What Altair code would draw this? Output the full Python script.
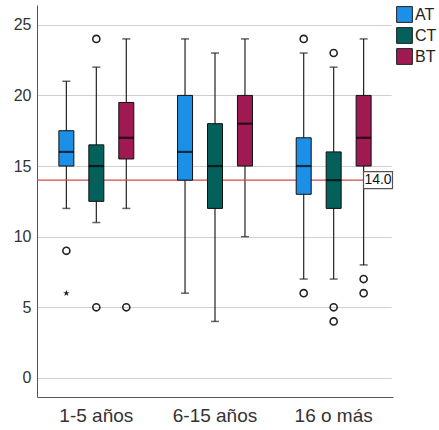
import altair as alt
import pandas as pd

groups = ["1-5 años", "6-15 años", "16 o más"]
series = ["AT", "CT", "BT"]
colors = ["#1C8FE6", "#04605B", "#9E1A50"]

lows = [[12, 11, 12], [6, 4, 10], [7, 7, 8]]
q1s = [[15, 12.5, 15.5], [14, 12, 15], [13, 12, 15]]
meds = [[16, 15, 17], [16, 15, 18], [15, 14, 17]]
q3s = [[17.5, 16.5, 19.5], [20, 18, 20], [17, 16, 20]]
highs = [[21, 22, 24], [24, 23, 24], [23, 22, 24]]

out_group = ["1-5 años", "1-5 años", "1-5 años", "1-5 años", "16 o más", "16 o más", "16 o más", "16 o más", "16 o más", "16 o más", "16 o más"]
out_series = ["AT", "CT", "CT", "BT", "AT", "AT", "CT", "CT", "CT", "BT", "BT"]
out_value = [9, 24, 5, 5, 24, 6, 23, 5, 4, 7, 6]

star_group = ["1-5 años"]
star_series = ["AT"]
star_value = [6]

ref_value = 14
ref_label = "14.0"

rows = []
for gi, g in enumerate(groups):
    for si, s in enumerate(series):
        rows.append(dict(group=g, series=s, low=lows[gi][si], q1=q1s[gi][si],
                         med=meds[gi][si], q3=q3s[gi][si], high=highs[gi][si]))
df = pd.DataFrame(rows)
outs = pd.DataFrame(dict(group=out_group, series=out_series, value=out_value))
stars = pd.DataFrame(dict(group=star_group, series=star_series, value=star_value))

W, H = 356, 392
FONT = "Liberation Sans"

x = alt.X("group:N", sort=groups, title=None,
          scale=alt.Scale(paddingInner=0, paddingOuter=0),
          axis=alt.Axis(labelAngle=0, labelFontSize=19, labelColor="#333333",
                        labelPadding=9, ticks=False, domainColor="#555555",
                        labelFont=FONT, grid=False))
xo = alt.XOffset("series:N", sort=series,
                 scale=alt.Scale(paddingInner=0, paddingOuter=0.48))
yscale = alt.Scale(domain=[-1.35, 26.4], nice=False, zero=False)
yaxis = alt.Axis(values=[0, 5, 10, 15, 20, 25], title=None, labelFontSize=16,
                 labelColor="#333333", ticks=False, labelPadding=6,
                 domainColor="#555555", gridColor="#cfcfcf", grid=True,
                 labelFont=FONT)

base = alt.Chart(df)

# white masks hiding the view border on the right and top edges
edge = pd.DataFrame({"k": [0]})
mask_right = alt.Chart(edge).mark_rule(color="white", strokeWidth=2.5).encode(
    x=alt.value(W), y=alt.value(-2), y2=alt.value(H - 1))
mask_top = alt.Chart(edge).mark_rule(color="white", strokeWidth=2.5).encode(
    x=alt.value(1.5), x2=alt.value(W + 2), y=alt.value(0))

whisk = base.mark_rule(color="#222222", strokeWidth=1.2).encode(
    x=x, xOffset=xo, y=alt.Y("low:Q", scale=yscale, axis=yaxis), y2="high:Q")
caplow = base.mark_tick(color="#222222", size=8, thickness=1.5, orient="horizontal").encode(
    x=x, xOffset=xo, y="low:Q")
caphigh = base.mark_tick(color="#222222", size=8, thickness=1.5, orient="horizontal").encode(
    x=x, xOffset=xo, y="high:Q")

refline = alt.Chart(pd.DataFrame({"v": [ref_value]})).mark_rule(
    color="#D04A4A", strokeWidth=1.2).encode(y="v:Q")

box = base.mark_bar(size=15, stroke="#111111", strokeWidth=1).encode(
    x=x, xOffset=xo, y="q1:Q", y2="q3:Q",
    color=alt.Color("series:N", sort=series,
                    scale=alt.Scale(domain=series, range=colors),
                    legend=alt.Legend(title=None, orient="none", legendX=359, legendY=1,
                                      symbolType="square", symbolSize=250,
                                      symbolStrokeColor="#222222", symbolStrokeWidth=1,
                                      symbolOpacity=1,
                                      labelFontSize=16, labelColor="#222222",
                                      labelFont=FONT, rowPadding=0, labelOffset=2)))
median = base.mark_tick(color="#000000", size=15, thickness=2.2, orient="horizontal").encode(
    x=x, xOffset=xo, y="med:Q")

outpts = alt.Chart(outs).mark_point(shape="circle", size=50, filled=False,
                                    color="#222222", strokeWidth=1.6, opacity=1).encode(
    x=x, xOffset=xo, y="value:Q")

star_path = "M0,-1 L0.24,-0.31 L0.95,-0.31 L0.38,0.12 L0.59,0.81 L0,0.4 L-0.59,0.81 L-0.38,0.12 L-0.95,-0.31 L-0.24,-0.31 Z"
starpts = alt.Chart(stars).mark_point(shape=star_path, size=45, filled=True,
                                      color="#222222", opacity=1).encode(
    x=x, xOffset=xo, y="value:Q")

lab = pd.DataFrame({"v": [ref_value], "t": [ref_label]})
box_path = "M-1,-0.586 L1,-0.586 L1,0.586 L-1,0.586 Z"
labbox = alt.Chart(lab).mark_point(shape=box_path, size=841, filled=False, fill="white",
                                   fillOpacity=1, opacity=1, stroke="#555555",
                                   strokeWidth=1.2).encode(
    x=alt.value(W - 15), y="v:Q")
labtext = alt.Chart(lab).mark_text(fontSize=14, color="#111111", font=FONT,
                                   align="center", baseline="middle").encode(
    x=alt.value(W - 15), y="v:Q", text="t:N")

chart = alt.layer(whisk, caplow, caphigh, refline, mask_right, mask_top, box, median,
                  outpts, starpts, labbox, labtext).properties(
    width=W, height=H,
    background="white",
    view=alt.ViewBackground(stroke="transparent", strokeWidth=0),
    autosize=alt.AutoSizeParams(type="none"),
    padding={"left": 37, "top": 5, "right": 46, "bottom": 33},
)

chart.save("out.html", embed_options={"renderer": "svg", "actions": False})
